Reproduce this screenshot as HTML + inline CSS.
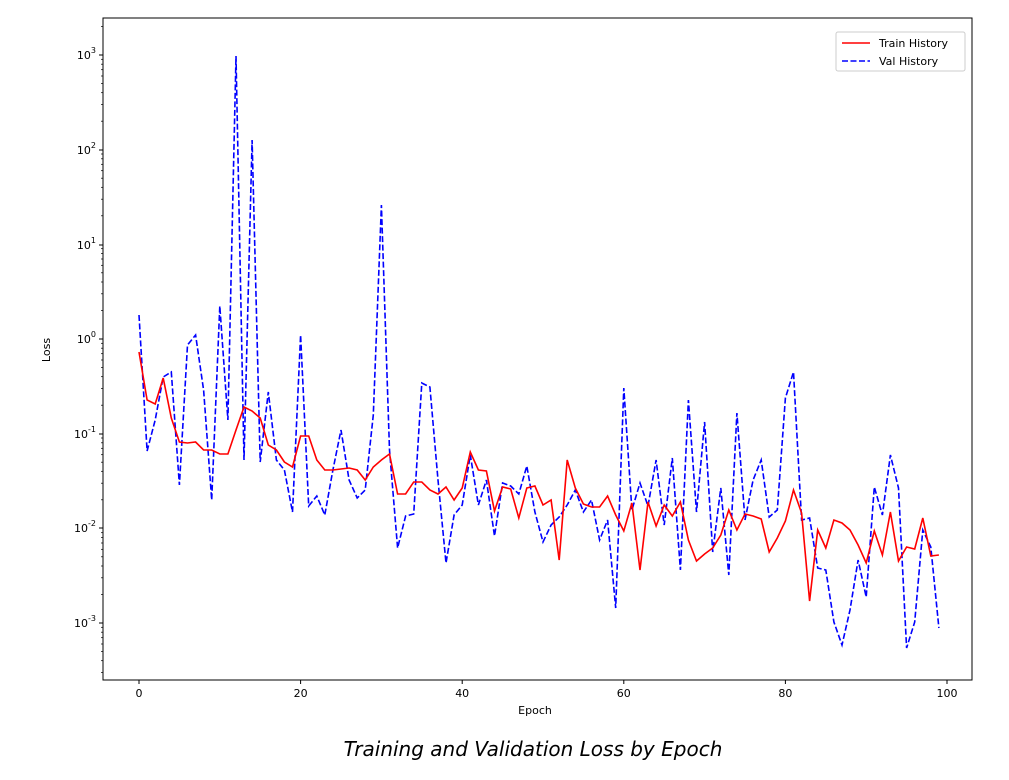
<!DOCTYPE html>
<html><head><meta charset="utf-8"><style>
html,body{margin:0;padding:0;background:#fff;}
svg text{font-family:"DejaVu Sans","Liberation Sans",sans-serif;}
</style></head><body>
<svg id="s" width="1009" height="775" xmlns="http://www.w3.org/2000/svg">
<rect x="0" y="0" width="1009" height="775" fill="#fff"/>
<g id="g"></g>
<rect x="103" y="18" width="869" height="662" fill="none" stroke="#000" stroke-width="1"/>
<text x="535" y="714" font-size="11" text-anchor="middle">Epoch</text>
<text x="50" y="350" font-size="11" text-anchor="middle" transform="rotate(-90 50 350)">Loss</text>
<rect x="836" y="32" width="129" height="39" fill="#fff" stroke="#ccc" stroke-width="1" rx="2"/>
<line x1="842" y1="43" x2="870" y2="43" stroke="#f00" stroke-width="1.6"/>
<text x="879" y="47" font-size="11">Train History</text>
<line x1="842" y1="61" x2="870" y2="61" stroke="#00f" stroke-width="1.6" stroke-dasharray="6,2.5"/>
<text x="879" y="65" font-size="11">Val History</text>
<text x="533" y="756" font-size="20" font-style="italic" text-anchor="middle" font-family="Liberation Sans, sans-serif">Training and Validation Loss by Epoch</text>
</svg>
<script>
var g=document.getElementById('g'),h='';
function X(i){return 139+8.08*i;}
[0,20,40,60,80,100].forEach(function(v){var x=X(v);h+='<line x1="'+x+'" y1="680" x2="'+x+'" y2="684" stroke="#000"/><text x="'+x+'" y="697" font-size="11" text-anchor="middle">'+v+'</text>';});
var ey=[3,2,1,0,-1,-2,-3],base=[55,150,245,339,434,528,623];
for(var k=0;k<7;k++){var y=base[k];h+='<line x1="99" y1="'+y+'" x2="103" y2="'+y+'" stroke="#000"/><text x="96" y="'+(y+4)+'" font-size="11" text-anchor="end">10<tspan dy="-6" font-size="8">'+ey[k]+'</tspan></text>';}
for(var d=-4;d<4;d++){for(var m=2;m<10;m++){var y=339-94.67*(d+Math.log10(m));if(y>18&&y<680)h+='<line x1="101" y1="'+y.toFixed(1)+'" x2="103" y2="'+y.toFixed(1)+'" stroke="#000" stroke-width="0.7"/>';}}
var tr=[352,400,404,378,418,442,443,442,450,450,454,454,430,407,411,418,445,450,462,467,436,436,460,470,470,469,468,470,480,467,460,454,494,494,482,482,490,494,487,500,488,452,470,471,511,487,489,518,488,486,505,500,560,460,488,504,507,507,496,515,531,503,570,502,526,505,516,502,540,561,554,548,535,510,530,514,516,519,552,538,521,490,513,601,530,548,520,523,530,545,563,531,555,512,561,547,549,518,556,555];
var va=[315,451,420,377,372,485,345,335,390,500,306,420,56,460,140,462,392,460,470,512,335,506,496,515,470,430,480,498,490,415,205,450,548,516,514,383,387,480,563,515,505,455,505,480,536,483,486,494,466,512,542,525,517,505,490,512,500,540,520,608,388,510,483,506,460,525,458,570,400,512,422,552,488,575,413,520,480,460,517,510,398,372,520,518,568,570,622,645,610,560,597,487,515,455,488,648,622,530,547,628];
function P(a){return a.map(function(y,i){return X(i).toFixed(1)+','+y;}).join(' ');}
h+='<polyline points="'+P(va)+'" fill="none" stroke="#00f" stroke-width="1.6" stroke-dasharray="6,2.5"/>';
h+='<polyline points="'+P(tr)+'" fill="none" stroke="#f00" stroke-width="1.6"/>';
g.innerHTML=h;
</script>
</body></html>
